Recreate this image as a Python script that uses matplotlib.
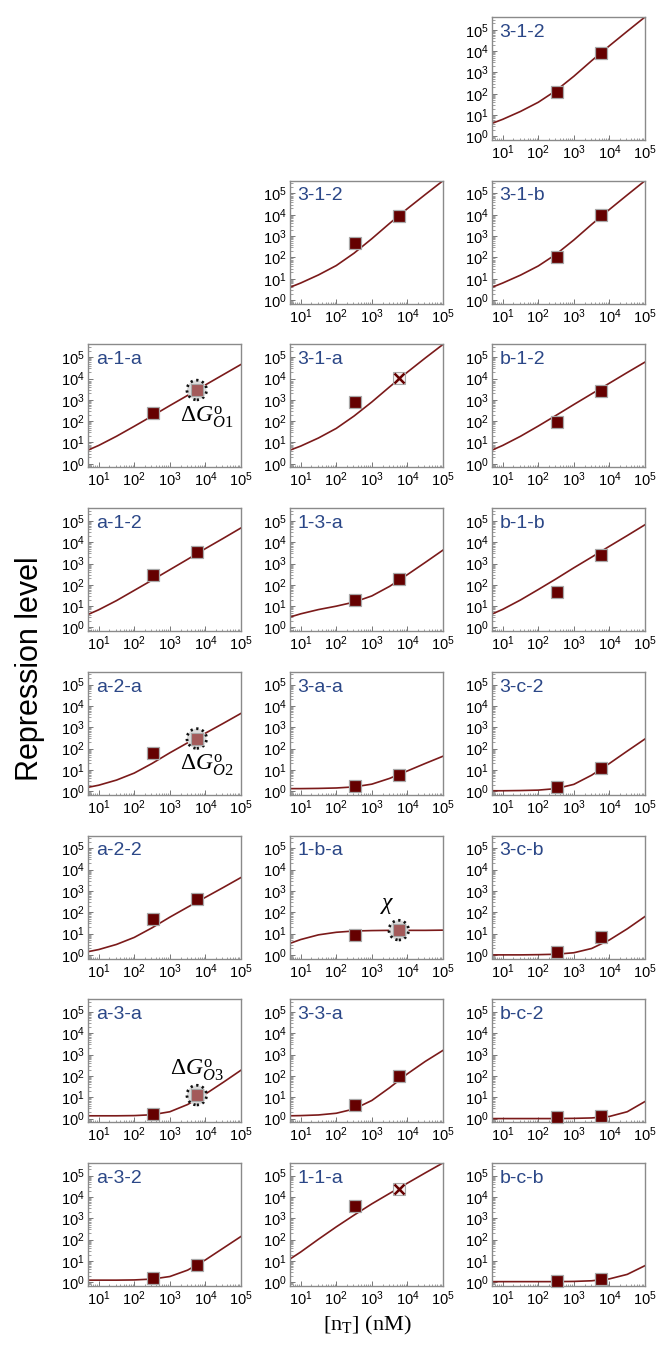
import numpy as np
import matplotlib
matplotlib.use('Agg')
import matplotlib.pyplot as plt
from matplotlib.ticker import LogLocator, FixedLocator, NullFormatter, FixedFormatter

plt.rcParams['mathtext.fontset'] = 'custom'
plt.rcParams['mathtext.rm'] = 'Liberation Serif'
plt.rcParams['mathtext.it'] = 'Liberation Serif:italic'
plt.rcParams['mathtext.sf'] = 'Liberation Sans'
plt.rcParams['font.family'] = ['Liberation Sans', 'DejaVu Sans']

# ---------------- data ----------------
panel_labels = ['3-1-2', '3-1-2', '3-1-b', 'a-1-a', '3-1-a', 'b-1-2',
                'a-1-2', '1-3-a', 'b-1-b', 'a-2-a', '3-a-a', '3-c-2',
                'a-2-2', '1-b-a', '3-c-b', 'a-3-a', '3-3-a', 'b-c-2',
                'a-3-2', '1-1-a', 'b-c-b']
panel_row = [0, 1, 1, 2, 2, 2, 3, 3, 3, 4, 4, 4, 5, 5, 5, 6, 6, 6, 7, 7, 7]
panel_col = [2, 1, 2, 0, 1, 2, 0, 1, 2, 0, 1, 2, 0, 1, 2, 0, 1, 2, 0, 1, 2]

# measured repressor concentrations (nM)
conc_nM = [330, 5700]
# log10 repression level of the two measurements in each panel
log_rep_low = [2.09, 2.67, 2.02, 2.39, 2.88, 1.95, 2.47, 1.28, 1.66, 1.77, 0.24,
               0.20, 1.70, 0.93, 0.12, 0.21, 0.63, 0.07, 0.20, 3.60, 0.05]
log_rep_high = [3.92, 3.94, 3.98, 3.46, 4.03, 3.41, 3.55, 2.27, 3.39, 2.47, 0.75,
                1.08, 2.60, 1.16, 0.85, 1.10, 1.99, 0.10, 0.80, 4.37, 0.15]

# model curve, sampled at these concentrations (nM)
curve_conc = [5, 10, 31.6, 100, 316, 1000, 3162, 10000, 31623, 100000]
log_curve = [
    [0.61, 0.80, 1.17, 1.60, 2.15, 2.82, 3.55, 4.25, 4.93, 5.60],
    [0.60, 0.80, 1.18, 1.62, 2.20, 2.88, 3.60, 4.29, 4.95, 5.60],
    [0.60, 0.80, 1.17, 1.60, 2.15, 2.82, 3.55, 4.25, 4.93, 5.60],
    [0.64, 0.86, 1.29, 1.76, 2.24, 2.73, 3.21, 3.70, 4.18, 4.66],
    [0.64, 0.83, 1.21, 1.66, 2.24, 2.90, 3.61, 4.30, 4.96, 5.60],
    [0.64, 0.86, 1.29, 1.77, 2.27, 2.78, 3.28, 3.78, 4.28, 4.77],
    [0.61, 0.83, 1.26, 1.74, 2.22, 2.71, 3.20, 3.70, 4.18, 4.67],
    [0.49, 0.64, 0.84, 1.00, 1.19, 1.48, 1.93, 2.48, 3.05, 3.63],
    [0.63, 0.85, 1.29, 1.78, 2.28, 2.80, 3.30, 3.81, 4.31, 4.82],
    [0.18, 0.28, 0.52, 0.85, 1.30, 1.80, 2.27, 2.72, 3.18, 3.65],
    [0.12, 0.12, 0.13, 0.15, 0.20, 0.33, 0.60, 0.95, 1.30, 1.64],
    [0.02, 0.02, 0.03, 0.05, 0.12, 0.32, 0.75, 1.30, 1.88, 2.45],
    [0.15, 0.25, 0.49, 0.82, 1.27, 1.77, 2.24, 2.70, 3.16, 3.63],
    [0.54, 0.72, 0.94, 1.06, 1.12, 1.14, 1.15, 1.15, 1.15, 1.16],
    [0.00, 0.00, 0.00, 0.01, 0.03, 0.10, 0.30, 0.70, 1.22, 1.80],
    [0.13, 0.13, 0.13, 0.14, 0.18, 0.32, 0.66, 1.15, 1.70, 2.27],
    [0.13, 0.14, 0.17, 0.25, 0.45, 0.85, 1.45, 2.10, 2.68, 3.20],
    [0.00, 0.00, 0.00, 0.00, 0.00, 0.01, 0.03, 0.10, 0.32, 0.80],
    [0.10, 0.10, 0.10, 0.11, 0.15, 0.27, 0.57, 1.05, 1.60, 2.15],
    [1.09, 1.42, 2.02, 2.60, 3.15, 3.68, 4.17, 4.65, 5.13, 5.60],
    [0.03, 0.03, 0.03, 0.03, 0.03, 0.04, 0.07, 0.16, 0.37, 0.78],
]

highlight_panels = ['a-1-a', 'a-2-a', 'a-3-a', '1-b-a']
highlight_rows = [2, 4, 6, 5]
highlight_texts = [r'$\Delta G^{\mathrm{o}}_{O1}$', r'$\Delta G^{\mathrm{o}}_{O2}$',
                   r'$\Delta G^{\mathrm{o}}_{O3}$', r'$\chi$']
crossed_index = [4, 19]

x_ticks = [10, 100, 1000, 10000, 100000]
x_ticklabels = [r'$\mathsf{10^{1}}$', r'$\mathsf{10^{2}}$', r'$\mathsf{10^{3}}$',
                r'$\mathsf{10^{4}}$', r'$\mathsf{10^{5}}$']
y_ticks = [1, 10, 100, 1000, 10000, 100000]
y_ticklabels = [r'$\mathsf{10^{0}}$', r'$\mathsf{10^{1}}$', r'$\mathsf{10^{2}}$',
                r'$\mathsf{10^{3}}$', r'$\mathsf{10^{4}}$', r'$\mathsf{10^{5}}$']

# ---------------- layout ----------------
W, H = 657, 1348
fig = plt.figure(figsize=(W / 100, H / 100), dpi=100)
col_left = [88, 290, 492]
row_top = [17 + 163.7 * r for r in range(8)]
ax_w, ax_h = 153, 123

curve_color = '#7b1a1a'
sq_color = '#650000'
label_color = '#2b4787'

for i, name in enumerate(panel_labels):
    L = col_left[panel_col[i]]
    T = row_top[panel_row[i]]
    ax = fig.add_axes([L / W, 1 - (T + ax_h) / H, ax_w / W, ax_h / H])
    ax.set_xscale('log')
    ax.set_yscale('log')
    ax.set_xlim(5, 1e5)
    ax.set_ylim(10 ** -0.17, 10 ** 5.6)

    ax.plot(curve_conc, np.power(10.0, log_curve[i]), color=curve_color, lw=1.2,
            zorder=2, clip_on=True, solid_joinstyle='round')

    ys = np.power(10.0, [log_rep_low[i], log_rep_high[i]])
    hl = name in highlight_panels and \
        highlight_rows[highlight_panels.index(name)] == panel_row[i]
    for j in range(2):
        if hl and j == 1:
            ax.scatter([conc_nM[j]], [ys[j]], s=200, facecolor='#dcdcdc',
                       edgecolor='#111111', linewidths=2.0,
                       linestyle=(0, (0.8, 1.3)), zorder=3, clip_on=False)
            ax.plot([conc_nM[j]], [ys[j]], marker='s', ms=8, mfc='#a35a5a',
                    mec='#a8a8a8', mew=0.8, zorder=4, clip_on=False)
        elif i in crossed_index and j == 1:
            ax.plot([conc_nM[j]], [ys[j]], marker='s', ms=8, mfc='#f6f0f0',
                    mec='#a8a8a8', mew=0.8, zorder=4, clip_on=False)
            ax.plot([conc_nM[j]], [ys[j]], marker='x', ms=6.5, mec=sq_color,
                    mew=1.8, zorder=5, clip_on=False)
        else:
            ax.plot([conc_nM[j]], [ys[j]], marker='s', ms=8.5, mfc=sq_color,
                    mec='#a8a8a8', mew=0.9, zorder=4, clip_on=False)

    if hl:
        k = highlight_panels.index(name)
        txt = highlight_texts[k]
        if name == 'a-1-a' or name == 'a-2-a':
            ax.annotate(txt, (conc_nM[1], ys[1]), xytext=(7, -10),
                        textcoords='offset points', ha='center', va='top',
                        fontsize=17, annotation_clip=False)
        elif name == 'a-3-a':
            ax.annotate(txt, (conc_nM[1], ys[1]), xytext=(0, 9),
                        textcoords='offset points', ha='center', va='bottom',
                        fontsize=17, annotation_clip=False)
        else:
            ax.annotate(txt, (conc_nM[1], ys[1]), xytext=(-8, 10),
                        textcoords='offset points', ha='center', va='bottom',
                        fontsize=17, annotation_clip=False)

    ax.text(0.05, 0.945, name, transform=ax.transAxes, ha='left', va='top',
            fontsize=14, color=label_color)

    ax.xaxis.set_major_locator(FixedLocator(x_ticks))
    ax.xaxis.set_major_formatter(FixedFormatter(x_ticklabels))
    ax.yaxis.set_major_locator(FixedLocator(y_ticks))
    ax.yaxis.set_major_formatter(FixedFormatter(y_ticklabels))
    ax.xaxis.set_minor_locator(LogLocator(base=10, subs=np.arange(2, 10), numticks=20))
    ax.yaxis.set_minor_locator(LogLocator(base=10, subs=np.arange(2, 10), numticks=20))
    ax.xaxis.set_minor_formatter(NullFormatter())
    ax.yaxis.set_minor_formatter(NullFormatter())
    ax.tick_params(which='major', direction='in', length=3.5, width=0.7,
                   color='#777777', labelsize=10.5, pad=2.5)
    ax.tick_params(which='minor', direction='in', length=1.8, width=0.5,
                   color='#777777')
    for sp in ax.spines.values():
        sp.set_color('#8a8a8a')
        sp.set_linewidth(1.0)

fig.text(0.046, 0.504, 'Repression level', rotation=90, ha='center', va='center',
         fontsize=22)
fig.text(0.559, 0.0165, r'[n$_{\mathrm{T}}$] (nM)', ha='center', va='center',
         fontsize=16, family=['Liberation Serif', 'DejaVu Serif'])

fig.savefig('out.png', dpi=100)
